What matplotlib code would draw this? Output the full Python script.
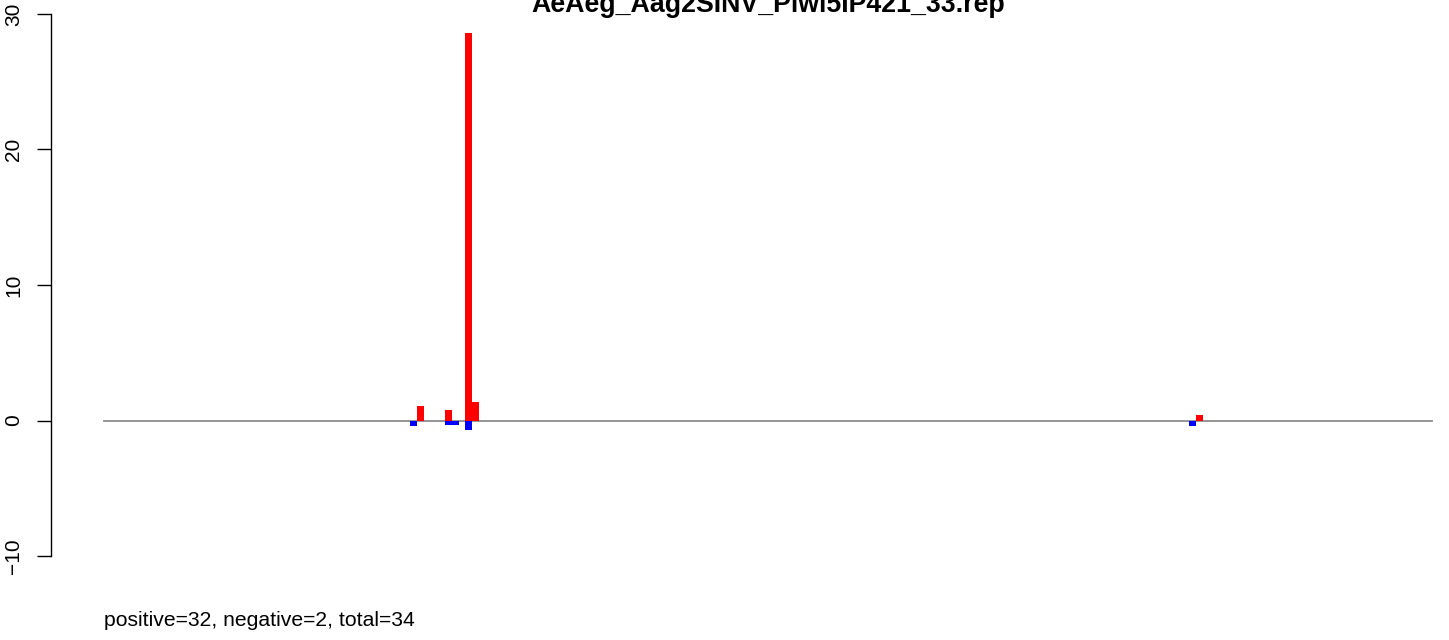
import matplotlib
matplotlib.use("Agg")
import matplotlib.pyplot as plt

plt.rcParams['font.family'] = ['Liberation Sans', 'DejaVu Sans']

title = "AeAeg_Aag2SINV_Piwi5IP421_33.rep"
seq_len = 1329
bin_w = 7

pos_x = [317, 345, 365, 372, 1096]
pos_val = [1.1, 0.75, 28.6, 1.4, 0.37]
neg_x = [310, 345, 352, 365, 1089]
neg_val = [-0.37, -0.35, -0.35, -0.7, -0.37]
n_pos, n_neg = 32, 2
yticks = [-10, 0, 10, 20, 30]

W, H = 1449, 640
fig = plt.figure(figsize=(W / 100, H / 100), dpi=100)
left_px, right_px = 51, 1485
top_px, bot_px = -7.7, 577.7
ax = fig.add_axes([left_px / W, 1 - bot_px / H, (right_px - left_px) / W, (bot_px - top_px) / H])

pad_x = seq_len * 0.04
ax.set_xlim(-pad_x, seq_len + pad_x)
ax.set_ylim(-10 - 1.6, 30 + 1.6)

ax.plot([0, seq_len], [0, 0], color='#8c8c8c', lw=1.3, zorder=1)
ax.bar(pos_x, pos_val, width=bin_w, color='red', linewidth=0, zorder=2)
ax.bar(neg_x, neg_val, width=bin_w, color='blue', linewidth=0, zorder=2)

for s in ['top', 'right', 'bottom']:
    ax.spines[s].set_visible(False)
ax.spines['left'].set_bounds(-10, 30)
ax.spines['left'].set_linewidth(1.0)
ax.set_xticks([])
ax.set_yticks(yticks)
ax.set_yticklabels([str(t).replace('-', '\u2212') for t in yticks], rotation=90, va='center', fontsize=15)
ax.tick_params(axis='y', length=9.8, width=1.0, pad=10)

fig.text(768 / W, 1 - 12 / H, title, ha='center', va='baseline', fontsize=19.3, fontweight='bold')
ax.text(0, -15.2, f"positive={n_pos}, negative={n_neg}, total={n_pos + n_neg}", ha='left', va='baseline',
        fontsize=15.2, clip_on=False)

fig.savefig("out.png", dpi=100)
